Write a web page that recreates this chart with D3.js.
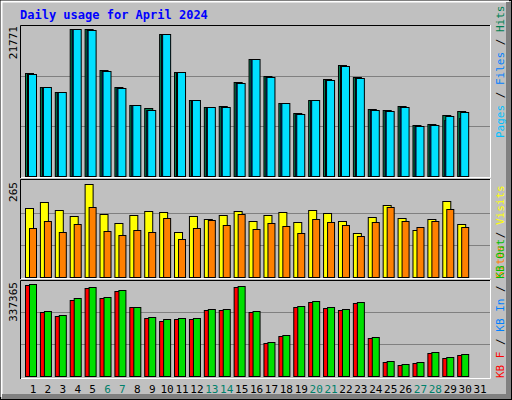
<!DOCTYPE html>
<html><head><meta charset="utf-8">
<script src="https://cdn.jsdelivr.net/npm/d3@7"></script>
<style>body{margin:0;background:#fff}svg{display:block}</style>
</head><body><svg id="c" width="512" height="400"></svg>
<script>
const days = d3.range(1,32);
const weekend = [6,7,13,14,20,21,27,28];
const hits  = [14903,12871,12145,21287,21287,15338,12871,10259,9824,20562,15091,11028,9969,10114,13597,16934,14467,10549,9098,11028,14032,16064,14322,9679,9534,10114,7357,7502,8808,9389];
const files = [14757,12871,12145,21287,21142,15192,12726,10259,9577,20562,15091,11028,9969,9969,13451,16934,14322,10549,8953,11028,13887,15918,14177,9534,9389,9969,7212,7357,8126,8416];
const pages = [14757,12871,12145,21287,21142,15192,12726,10259,9577,20562,15091,11028,9969,9969,13451,16934,14322,10549,8953,11028,13887,15918,14177,9534,9389,9969,7212,7357,8663,9243];
const visits= [190,206,184,168,256,173,148,170,181,179,123,168,159,170,181,154,170,179,151,184,176,154,121,165,198,162,129,159,209,145];
const sites = [134,154,123,145,192,126,115,129,123,162,104,134,157,143,173,132,148,140,121,159,151,143,112,151,192,154,137,154,187,137];
const kbF   = [318700,223800,209800,266000,308200,273000,297600,241400,202800,192200,199200,199200,230900,230900,311700,223800,114900,139500,241400,259000,237900,230900,255500,132500,48100,37600,44600,79800,62200,72700];
const kbIn  = [900,800,800,800,900,800,900,700,700,600,700,700,800,800,900,800,500,500,700,700,700,700,800,500,200,200,200,300,300,300];
const kbOut = [322200,227400,213300,273000,311700,276600,301200,241400,206300,199200,202800,202800,234400,234400,315200,227400,118400,143000,244900,262500,241400,234400,259000,136000,51700,41100,48100,83300,65700,76300];
const maxTop=21771, maxMid=265, maxBot=337365;

const svg=d3.select("#c");
const mono="'DejaVu Sans Mono', monospace";
svg.append("rect").attr("width",512).attr("height",400).attr("fill","#c0c0c0");
// frame
svg.append("rect").attr("x",0.5).attr("y",0.5).attr("width",511).attr("height",399).attr("fill","none").attr("stroke","#000");
svg.append("path").attr("d","M1.5,397V1.5H509").attr("stroke","#fff").attr("stroke-width",2).attr("fill","none");
svg.append("path").attr("d","M2,396.5H508.5V2").attr("stroke","#808080").attr("stroke-width",5).attr("fill","none");
svg.append("text").attr("x",20).attr("y",19).attr("font-family",mono).attr("font-weight","bold").attr("font-size",12).attr("fill","#0000ff").text("Daily usage for April 2024");

const x=d3.scaleBand().domain(days).range([25,487]).paddingInner(0).paddingOuter(0);
function panel(y0,y1){
  svg.append("rect").attr("x",20).attr("y",y0).attr("width",470).attr("height",y1-y0).attr("fill","#c0c0c0");
  svg.append("path").attr("d",`M20.5,${y1}V${y0+.5}H490`).attr("stroke","#000").attr("fill","none");
  svg.append("path").attr("d",`M21,${y1-.5}H490.5V${y0}`).attr("stroke","#fff").attr("fill","none");
}
function grid(y,max){
  [1/3,2/3].forEach(f=>svg.append("line").attr("x1",21).attr("x2",490).attr("y1",Math.round(y(max*f))+.5).attr("y2",Math.round(y(max*f))+.5).attr("stroke","#808080"));
}
function bars(data,y,dx,w,color){
  svg.append("g").selectAll("rect").data(data).join("rect")
    .attr("x",(d,i)=>x(days[i])+dx+.5).attr("y",d=>Math.round(y(d))+.5)
    .attr("width",w).attr("height",d=>Math.max(0,y(0)-Math.round(y(d))))
    .attr("fill",color).attr("stroke","#000");
}
function leftLabel(txt,yTop){
  svg.append("text").attr("transform",`translate(17,${yTop}) rotate(-90)`).attr("text-anchor","end")
    .attr("font-family",mono).attr("font-size",11).attr("fill","#000").text(txt);
}
function rightLabel(parts,yBottom){
  const t=svg.append("text").attr("transform",`translate(504,${yBottom}) rotate(-90)`)
    .attr("font-family",mono).attr("font-size",11);
  parts.forEach(p=>t.append("tspan").attr("fill",p[1]).text(p[0]));
}

// top
panel(25,178);
const yT=d3.scaleLinear().domain([0,maxTop]).range([176,26]);
grid(yT,maxTop);
bars(hits,yT,0,8,"#008052");
bars(files,yT,2,8,"#0040ff");
bars(pages,yT,3,8,"#00e0ff");
leftLabel("21771",26);
rightLabel([["Pages","#00c0ff"],[" / ","#000"],["Files","#0080ff"],[" / ","#000"],["Hits","#008052"]],138);

// middle
panel(179,279);
const yM=d3.scaleLinear().domain([0,maxMid]).range([277,181]);
grid(yM,maxMid);
bars(visits,yM,0,8,"#ffff00");
bars(sites,yM,4,7,"#ff8000");
leftLabel("265",182);
rightLabel([["Sites","#ff8000"],[" / ","#000"],["Visits","#ffff00"]],278);

// bottom
panel(280,379);
const yB=d3.scaleLinear().domain([0,maxBot]).range([376,280]);
grid(yB,maxBot);
bars(kbF,yB,0,8,"#ff0000");
bars(kbIn,yB,2,2,"#0080ff");
bars(kbOut,yB,4,7,"#00e000");
leftLabel("337365",282);
rightLabel([["KB F","#ff0000"],[" / ","#000"],["KB In","#0080ff"],[" / ","#000"],["KB Out","#00c000"]],378);

// day labels
svg.append("g").selectAll("text").data(days).join("text")
  .attr("x",d=>x(d)+8).attr("y",393).attr("text-anchor","middle")
  .attr("font-family",mono).attr("font-size",11)
  .attr("fill",d=>weekend.includes(d)?"#00806b":"#000").text(d=>d);
</script></body></html>
